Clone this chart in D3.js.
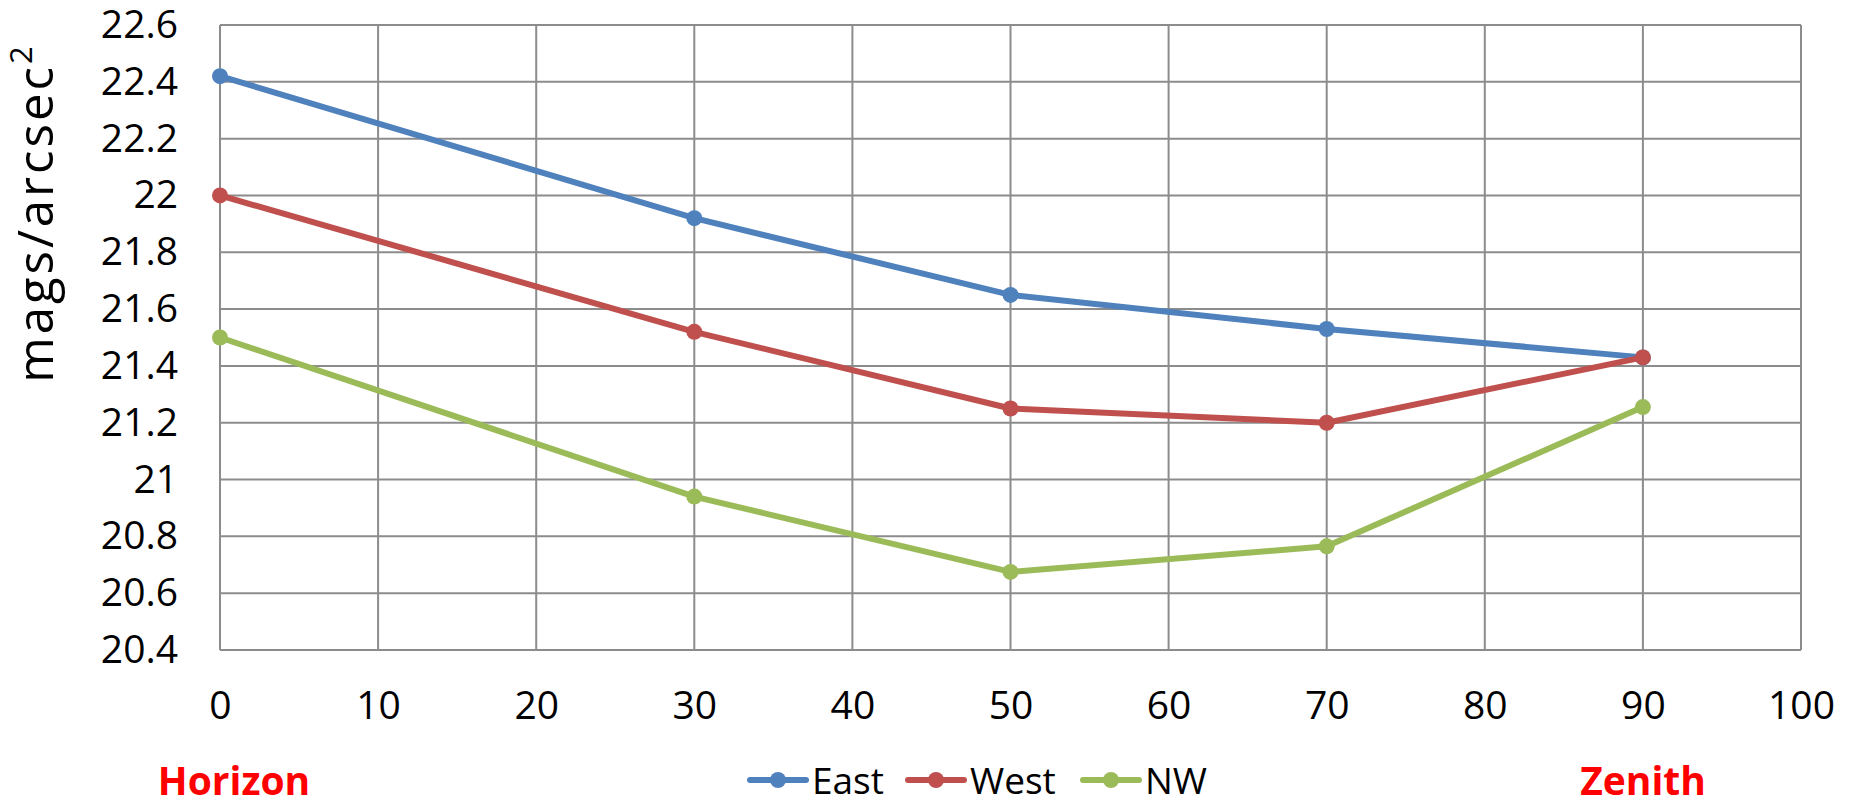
<!DOCTYPE html>
<html>
<head>
<meta charset="utf-8">
<script src="https://cdn.jsdelivr.net/npm/d3@7"></script>
<style>
  body { margin: 0; background: #fff; }
  svg { display: block; }
</style>
</head>
<body>
<svg id="chart" width="1852" height="801"></svg>
<script>
// altitude of measurement (degrees above horizon)
const altitudes = [0, 30, 50, 70, 90];
const seriesNames = ["East", "West", "NW"];
const eastValues = [22.42, 21.92, 21.65, 21.53, 21.43];
const westValues = [22.0, 21.52, 21.25, 21.2, 21.43];
const nwValues = [21.5, 20.94, 20.675, 20.765, 21.255];
const xTicks = [0, 10, 20, 30, 40, 50, 60, 70, 80, 90, 100];
const yTicks = [20.4, 20.6, 20.8, 21, 21.2, 21.4, 21.6, 21.8, 22, 22.2, 22.4, 22.6];

const colors = ["#4F81BD", "#C0504D", "#9BBB59"];
const font = "'Open Sans', sans-serif";

let svg = d3.select("#chart");

let plot = { left: 220, top: 25, right: 1801, bottom: 650 };

let x = d3.scaleLinear().domain([0, 100]).range([plot.left, plot.right]);
let y = d3.scaleLinear().domain([20.4, 22.6]).range([plot.bottom, plot.top]);

// gridlines
let grid = svg.append("g").attr("stroke", "#8c8c8c").attr("stroke-width", 2);
grid.selectAll("line.v")
    .data(xTicks)
    .join("line")
    .attr("class", "v")
    .attr("x1", d => x(d)).attr("x2", d => x(d))
    .attr("y1", plot.top).attr("y2", plot.bottom);
grid.selectAll("line.h")
    .data(yTicks)
    .join("line")
    .attr("class", "h")
    .attr("x1", plot.left).attr("x2", plot.right)
    .attr("y1", d => y(d)).attr("y2", d => y(d));

// axes (labels only, Excel style)
let yAxis = svg.append("g")
    .attr("transform", "translate(" + plot.left + ",0)")
    .call(d3.axisLeft(y).tickValues(yTicks).tickSize(0).tickPadding(42).tickFormat(d3.format("~g")));
yAxis.select(".domain").remove();
yAxis.selectAll("text")
    .attr("font-family", font)
    .attr("font-size", 39)
    .attr("fill", "#000");

let xAxis = svg.append("g")
    .attr("transform", "translate(0," + plot.bottom + ")")
    .call(d3.axisBottom(x).tickValues(xTicks).tickSize(0).tickPadding(0).tickFormat(d3.format("~g")));
xAxis.select(".domain").remove();
xAxis.selectAll("text")
    .attr("font-family", font)
    .attr("font-size", 39)
    .attr("fill", "#000")
    .attr("dy", null)
    .attr("y", 69);

// y axis title
let yTitle = svg.append("text")
    .attr("transform", "translate(53,213) rotate(-90)")
    .attr("text-anchor", "middle")
    .attr("font-family", font)
    .attr("font-size", 49)
    .attr("letter-spacing", 3)
    .attr("fill", "#000");
yTitle.append("tspan").text("mags/arcsec");
yTitle.append("tspan").attr("font-size", 31).attr("dy", -21).text("2");

// series lines
let allSeries = [eastValues, westValues, nwValues];
let line = d3.line()
    .x((d, i) => x(altitudes[i]))
    .y(d => y(d));

allSeries.forEach((vals, s) => {
    let g = svg.append("g");
    g.append("path")
        .attr("d", line(vals))
        .attr("fill", "none")
        .attr("stroke", colors[s])
        .attr("stroke-width", 6)
        .attr("stroke-linejoin", "round")
        .attr("stroke-linecap", "round");
    g.selectAll("circle")
        .data(vals)
        .join("circle")
        .attr("cx", (d, i) => x(altitudes[i]))
        .attr("cy", d => y(d))
        .attr("r", 8)
        .attr("fill", colors[s]);
});

// legend
let legendX = [750, 908, 1083];
let legend = svg.append("g");
seriesNames.forEach((name, s) => {
    let lg = legend.append("g").attr("transform", "translate(" + legendX[s] + ",780)");
    lg.append("line")
        .attr("x1", 0).attr("x2", 56)
        .attr("stroke", colors[s]).attr("stroke-width", 6)
        .attr("stroke-linecap", "round");
    lg.append("circle").attr("cx", 28).attr("r", 8).attr("fill", colors[s]);
    lg.append("text")
        .attr("x", 62).attr("y", 14)
        .attr("font-family", font)
        .attr("font-size", 37)
        .attr("fill", "#000")
        .text(name);
});

// horizon / zenith annotations
svg.append("text")
    .attr("x", 234).attr("y", 795)
    .attr("text-anchor", "middle")
    .attr("font-family", font)
    .attr("font-weight", "bold")
    .attr("font-size", 39)
    .attr("fill", "#FF0000")
    .text("Horizon");
svg.append("text")
    .attr("x", 1643).attr("y", 795)
    .attr("text-anchor", "middle")
    .attr("font-family", font)
    .attr("font-weight", "bold")
    .attr("font-size", 39)
    .attr("fill", "#FF0000")
    .text("Zenith");
</script>
</body>
</html>
